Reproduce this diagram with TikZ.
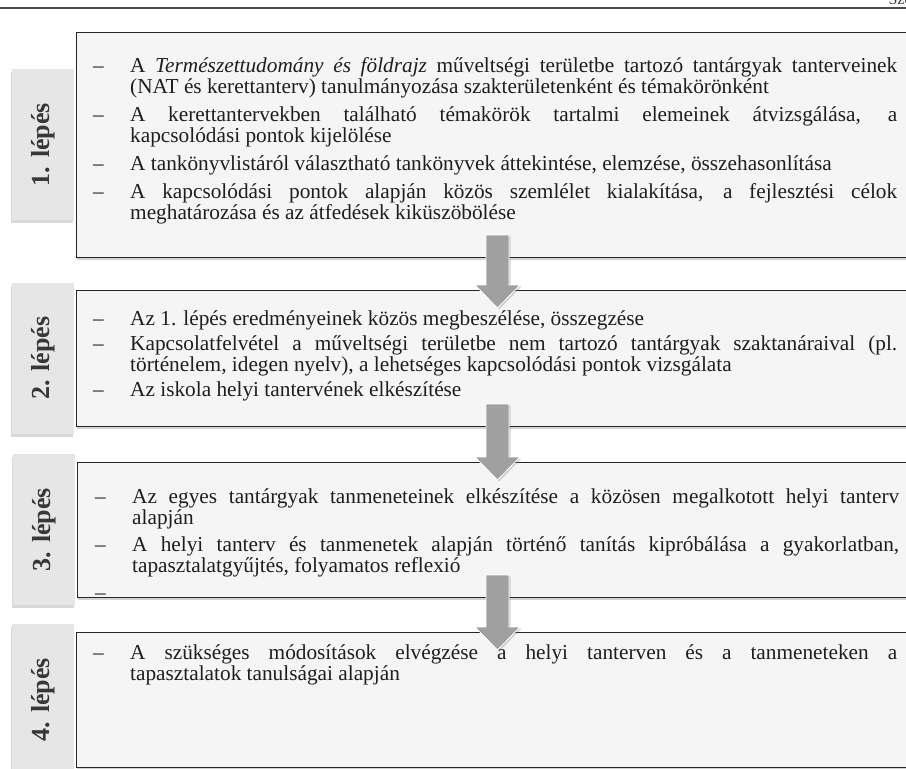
\documentclass[tikz,border=0pt]{standalone}
\usepackage{fontspec}
\setmainfont{Liberation Serif}
\usetikzlibrary{calc,positioning,shadows}

\definecolor{dobozszin}{RGB}{245,245,245}
\definecolor{fulszin}{RGB}{230,230,230}
\definecolor{nyilszin}{RGB}{160,160,160}
\definecolor{betuszin}{RGB}{30,30,30}
\definecolor{cimszin}{RGB}{55,55,55}

\newcommand\lepespont[1]{\par\hangindent=37pt\hangafter=1\noindent\makebox[37pt][l]{–}#1\par}

\begin{document}
\begin{tikzpicture}[x=1pt, y=-1pt,
		stepbox/.style={draw=black!85, line width=1pt, fill=dobozszin, anchor=north west,
			inner sep=0pt, outer sep=0pt, minimum width=834pt,
			drop shadow={shadow xshift=1pt, shadow yshift=-3pt, opacity=.35}},
		lepestab/.style={fill=fulszin, minimum width=62pt, minimum height=151pt, inner sep=0pt, outer sep=0pt,
			drop shadow={shadow xshift=-1pt, shadow yshift=-3pt, opacity=.3}},
		lepescim/.style={rotate=90, font=\fontsize{26}{26}\selectfont\bfseries, text=cimszin},
		lepeslista/.style={anchor=north west, inner sep=0pt, text width=804pt, align=justify,
			text=betuszin, font=\fontsize{21.3}{21}\selectfont},
		lepesnyil/.style={fill=nyilszin, draw=white, line width=.8pt,
			drop shadow={shadow xshift=1.5pt, shadow yshift=-1.5pt, opacity=.35}},
	]
	\useasboundingbox (0,0) rectangle (906,769);
	\clip (0,0) rectangle (906,769);

	% fejlec
	\draw[black!70, line width=1.2pt] (0,8) -- (906,8);
	\node[anchor=base west, font=\fontsize{16}{16}\selectfont, text=cimszin] (fejlec) at (885,4) {Sze};

	\node[stepbox, minimum height=225pt] (box1) at (76,32) {};
	\node[stepbox, minimum height=136pt] (box2) at (76,290) {};
	\node[stepbox, minimum height=135pt] (box3) at (77,462) {};
	\node[stepbox, minimum height=135pt] (box4) at (76,632) {};

	\foreach \i in {1,...,4}
		\node[lepestab, left=2pt of box\i] (tab\i) {};
	\foreach \i in {1,...,4}
		\node[lepescim] (cim\i) at (tab\i) {\i. lépés};

	\node[lepeslista] (lista1) at (93,44) {\setlength\parskip{7pt}%
		\lepespont{A \textit{Természettudomány és földrajz} műveltségi területbe tartozó tantárgyak tanterveinek \linebreak (NAT és kerettanterv) tanulmányozása szakterületenként és témakörönként}
		\lepespont{A kerettantervekben található témakörök tartalmi elemeinek átvizsgálása, a \linebreak kapcsolódási pontok kijelölése}
		\lepespont{A tankönyvlistáról választható tankönyvek áttekintése, elemzése, összehasonlítása}
		\lepespont{A kapcsolódási pontok alapján közös szemlélet kialakítása, a fejlesztési célok \linebreak meghatározása és az átfedések kiküszöbölése}};
	\node[lepeslista] (lista2) at (93,300) {\setlength\parskip{4pt}%
		\lepespont{Az 1. lépés eredményeinek közös megbeszélése, összegzése}
		\lepespont{Kapcsolatfelvétel a műveltségi területbe nem tartozó tantárgyak szaktanáraival (pl. \linebreak történelem, idegen nyelv), a lehetséges kapcsolódási pontok vizsgálata}
		\lepespont{Az iskola helyi tantervének elkészítése}};
	\node[lepeslista] (lista3) at (95,476) {\setlength\parskip{6pt}%
		\lepespont{Az egyes tantárgyak tanmeneteinek elkészítése a közösen megalkotott helyi tanterv \linebreak alapján}
		\lepespont{A helyi tanterv és tanmenetek alapján történő tanítás kipróbálása a gyakorlatban, \linebreak tapasztalatgyűjtés, folyamatos reflexió}
		\lepespont{\strut}};
	\node[lepeslista] (lista4) at (93,638) {%
		\lepespont{A szükséges módosítások elvégzése a helyi tanterven és a tanmeneteken a \linebreak tapasztalatok tanulságai alapján}};

	% nyilak
	\coordinate (nyilx) at (497.5,0);
	\foreach \i/\j in {1/2,2/3,3/4}{
		\coordinate (ny\i-fel) at ($(box\i.south -| nyilx)+(0,-22)$);
		\coordinate (ny\i-le) at ($(box\j.north -| nyilx)+(0,18)$);
		\filldraw[lepesnyil] ($(ny\i-fel)+(-11.5,0)$) |- ($(ny\i-le)+(-22.5,-23)$) -- (ny\i-le)
			-- ($(ny\i-le)+(22.5,-23)$) -| ($(ny\i-fel)+(11.5,0)$) -- cycle;
	}
\end{tikzpicture}
\end{document}
